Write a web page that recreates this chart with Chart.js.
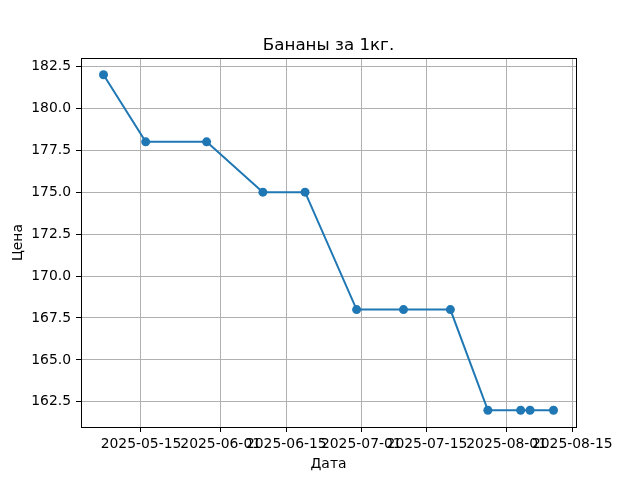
<!DOCTYPE html>
<html>
<head>
<meta charset="utf-8">
<script src="https://cdn.jsdelivr.net/npm/chart.js@4.4.0/dist/chart.umd.min.js"></script>
<style>
  body { margin: 0; background: #fff; }
</style>
</head>
<body>
<canvas id="priceChart" width="640" height="480"></canvas>
<script>
// price of bananas per kg, by date
const dates = ['2025-05-07', '2025-05-16', '2025-05-29', '2025-06-10', '2025-06-19', '2025-06-30',
               '2025-07-10', '2025-07-20', '2025-07-28', '2025-08-04', '2025-08-06', '2025-08-11'];
const prices = [182, 178, 178, 175, 175, 168, 168, 168, 162, 162, 162, 162];
const xTickDates = ['2025-05-15', '2025-06-01', '2025-06-15', '2025-07-01', '2025-07-15', '2025-08-01', '2025-08-15'];
const yTickValues = [162.5, 165.0, 167.5, 170.0, 172.5, 175.0, 177.5, 180.0, 182.5];
const chartTitle = 'Бананы за 1кг.';

const DAY = 86400000;
const toDay = s => Date.parse(s + 'T00:00:00Z') / DAY;
const fromDay = d => new Date(Math.round(d) * DAY).toISOString().slice(0, 10);

const xs = dates.map(toDay);
const xSpan = Math.max(...xs) - Math.min(...xs);
const ySpan = Math.max(...prices) - Math.min(...prices);

Chart.defaults.font.family = 'DejaVu Sans';
Chart.defaults.color = '#000';

// matplotlib style box around the axes + title centred over the plot area
const frame = {
    id: 'frame',
    afterDraw(chart) {
        const {ctx, chartArea: a} = chart;
        ctx.save();
        ctx.strokeStyle = '#000';
        ctx.lineWidth = 1;
        ctx.strokeRect(Math.round(a.left) + 0.5, Math.round(a.top) + 0.5,
                       Math.round(a.right - a.left), Math.round(a.bottom - a.top));
        ctx.fillStyle = '#000';
        ctx.font = '16.7px "DejaVu Sans"';
        ctx.textAlign = 'center';
        ctx.textBaseline = 'alphabetic';
        ctx.fillText(chartTitle, (a.left + a.right) / 2, a.top - 8.5);
        ctx.restore();
    }
};

new Chart(document.getElementById('priceChart').getContext('2d'), {
    type: 'line',
    data: {
        datasets: [{
            data: xs.map((x, i) => ({x: x, y: prices[i]})),
            borderColor: '#1f77b4',
            backgroundColor: '#1f77b4',
            borderWidth: 2,
            pointRadius: 4.5,
            pointHoverRadius: 4.5,
            pointBorderWidth: 0,
            tension: 0
        }]
    },
    options: {
        responsive: false,
        animation: false,
        devicePixelRatio: 1,
        layout: {padding: {left: 0, right: 64, top: 58, bottom: 0}},
        plugins: {
            legend: {display: false},
            tooltip: {enabled: false},
            title: {display: false}
        },
        scales: {
            x: {
                type: 'linear',
                min: Math.min(...xs) - 0.05 * xSpan,
                max: Math.max(...xs) + 0.05 * xSpan,
                afterBuildTicks: s => { s.ticks = xTickDates.map(d => ({value: toDay(d)})); },
                afterFit: s => { s.height = 53; s.paddingLeft = 0; s.paddingRight = 0; },
                ticks: {
                    autoSkip: false,
                    maxRotation: 0,
                    padding: 4,
                    font: {size: 13.9},
                    callback: v => fromDay(v)
                },
                grid: {color: '#b0b0b0', lineWidth: 1, tickColor: '#000', tickLength: 5},
                border: {color: '#000', width: 1},
                title: {display: true, text: 'Дата', font: {size: 13.9}, padding: {top: 0, bottom: 7}}
            },
            y: {
                min: Math.min(...prices) - 0.05 * ySpan,
                max: Math.max(...prices) + 0.05 * ySpan,
                afterBuildTicks: s => { s.ticks = yTickValues.map(v => ({value: v})); },
                afterFit: s => { s.width = 81; s.paddingTop = 0; s.paddingBottom = 0; },
                ticks: {
                    padding: 5,
                    font: {size: 13.9},
                    callback: v => v.toFixed(1)
                },
                grid: {color: '#b0b0b0', lineWidth: 1, tickColor: '#000', tickLength: 5},
                border: {color: '#000', width: 1},
                title: {display: true, text: 'Цена', font: {size: 13.9}, padding: {top: 10, bottom: 0}}
            }
        }
    },
    plugins: [frame]
});
</script>
</body>
</html>
